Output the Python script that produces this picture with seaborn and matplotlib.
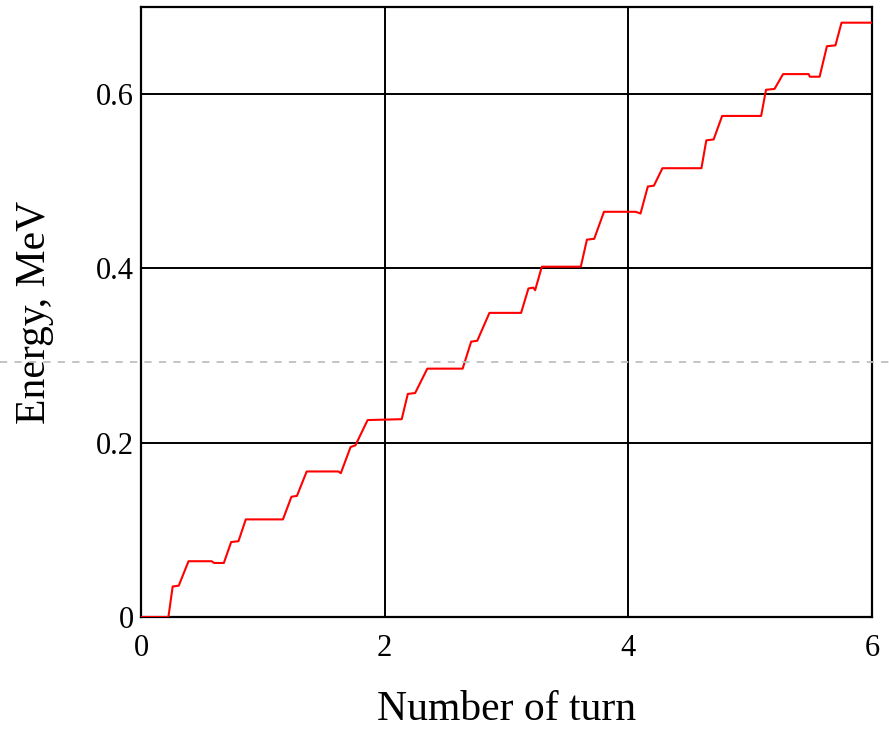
import matplotlib
matplotlib.use("Agg")
import matplotlib.pyplot as plt
from matplotlib.lines import Line2D
import seaborn as sns
import pandas as pd

# Staircase energy gain curve
turns = [0.0, 0.225, 0.26, 0.31, 0.39, 0.58, 0.60, 0.68,
         0.74, 0.80, 0.86, 1.165,
         1.235, 1.28, 1.36, 1.62, 1.64,
         1.72, 1.76, 1.86, 2.14,
         2.19, 2.25, 2.35, 2.64,
         2.71, 2.76, 2.86, 3.12,
         3.18, 3.22, 3.235, 3.29, 3.61,
         3.66, 3.72, 3.80, 4.06, 4.10,
         4.16, 4.21, 4.28, 4.60,
         4.64, 4.70, 4.77, 5.09,
         5.13, 5.20, 5.27, 5.48, 5.49, 5.57,
         5.63, 5.70, 5.75, 6.0]
energy = [0.0, 0.0, 0.035, 0.036, 0.064, 0.064, 0.062, 0.062,
          0.086, 0.087, 0.112, 0.112,
          0.138, 0.139, 0.167, 0.167, 0.165,
          0.195, 0.197, 0.226, 0.227,
          0.256, 0.257, 0.285, 0.285,
          0.316, 0.317, 0.349, 0.349,
          0.377, 0.378, 0.375, 0.402, 0.402,
          0.433, 0.434, 0.465, 0.465, 0.463,
          0.494, 0.495, 0.515, 0.515,
          0.547, 0.548, 0.575, 0.575,
          0.605, 0.606, 0.623, 0.623, 0.620, 0.620,
          0.655, 0.656, 0.682, 0.682]

x_ticks = [0, 2, 4, 6]
y_ticks = [0, 0.2, 0.4, 0.6]
y_tick_labels = ["0", "0.2", "0.4", "0.6"]

sns.set_style("white")
plt.rcParams["font.family"] = ["Liberation Serif", "DejaVu Serif"]
plt.rcParams["text.color"] = "black"
plt.rcParams["axes.labelcolor"] = "black"

df = pd.DataFrame({"turn": turns, "energy": energy})

fig = plt.figure(figsize=(8.89, 7.39), dpi=100)
ax = fig.add_axes([141 / 889, 1 - 617 / 739, (872 - 141) / 889, (617 - 7) / 739])

sns.lineplot(data=df, x="turn", y="energy", ax=ax, color="#ff0000",
             linewidth=1.5, estimator=None, sort=False, zorder=3)

ax.set_xlim(0, 6)
ax.set_ylim(0, 0.7)
ax.set_xticks(x_ticks)
ax.set_xticklabels([str(t) for t in x_ticks])
ax.set_yticks(y_ticks)
ax.set_yticklabels(y_tick_labels)
ax.grid(True, color="black", linewidth=1.4)
ax.set_axisbelow(True)
for s in ax.spines.values():
    s.set_color("black")
    s.set_linewidth(1.6)
ax.tick_params(axis="both", length=0, labelsize=22, colors="black")
ax.tick_params(axis="x", pad=12)
ax.tick_params(axis="y", pad=5)

ax.set_xlabel("Number of turn", fontsize=30, labelpad=20, color="black")
ax.set_ylabel("Energy, MeV", fontsize=30, labelpad=30, color="black")

# light dashed reference line across the whole figure
fig.add_artist(Line2D([0, 1], [1 - 362 / 739, 1 - 362 / 739], transform=fig.transFigure,
                      color="#bfbfbf", linewidth=1.3, linestyle=(0, (4, 4)), zorder=10))

fig.savefig("out.png", dpi=100)
